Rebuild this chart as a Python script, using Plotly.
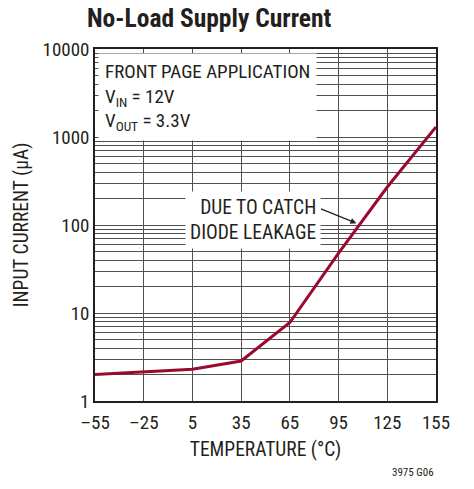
import plotly.graph_objects as go

temperature = [-55, -25, 5, 35, 65, 95, 125, 155]
input_current = [2.0, 2.15, 2.3, 2.85, 7.8, 48, 270, 1300]

x_ticks = [-55, -25, 5, 35, 65, 95, 125, 155]
x_tick_labels = ["–55", "–25", "5", "35", "65", "95", "125", "155"]
y_decades = [1, 10, 100, 1000, 10000]

FONT = "Liberation Sans Narrow, Roboto Condensed, Arial Narrow, sans-serif"
INK = "#231f20"

# gridline values: every 1..9 per decade
y_grid = []
for d in y_decades[:-1]:
    for m in range(1, 10):
        y_grid.append(d * m)
y_grid.append(10000)
y_grid_text = [str(v) if v in y_decades else "" for v in y_grid]

# page has an 8px body margin; figure is sized to compensate
W, H = 466, 481
fig = go.Figure()
fig.add_trace(go.Scatter(
    x=temperature, y=input_current, mode="lines",
    line=dict(color="#9a0a2e", width=3),
    showlegend=False, hoverinfo="skip"))

fig.update_layout(
    width=W, height=H,
    margin=dict(l=77, r=38, t=41, b=88),
    paper_bgcolor="white", plot_bgcolor="white",
    font=dict(family=FONT, size=19, color=INK),
    title=dict(text="<b>No-Load Supply Current</b>", x=(87 - 8) / W, xanchor="left",
               y=1 - (18 - 8) / H, yanchor="middle",
               font=dict(family=FONT, size=25.5, color=INK)),
    xaxis=dict(range=[-55, 155], tickvals=x_ticks, ticktext=x_tick_labels,
               showgrid=True, gridcolor="#505050", gridwidth=1,
               showline=True, linecolor=INK, linewidth=1.5, mirror=True,
               ticks="", zeroline=False, tickfont=dict(size=19),
               ticklabelstandoff=3,
               title=dict(text="TEMPERATURE (°C)", standoff=10,
                          font=dict(family=FONT, size=19.5))),
    yaxis=dict(type="log", range=[0, 4], tickvals=y_grid, ticktext=y_grid_text,
               showgrid=True, gridcolor="#505050", gridwidth=1,
               showline=True, linecolor=INK, linewidth=1.5, mirror=True,
               ticks="", zeroline=False, tickfont=dict(size=19),
               title=dict(text="INPUT CURRENT (µA)", standoff=9,
                          font=dict(family=FONT, size=19.5))),
)

fig.add_annotation(
    x=-53.2, y=3.955, xref="x", yref="y", xanchor="left", yanchor="top",
    text="FRONT PAGE APPLICATION<br>V<sub>IN</sub> = 12V<br>V<sub>OUT</sub> = 3.3V",
    align="left", showarrow=False, bgcolor="white", borderpad=6,
    font=dict(family=FONT, size=19, color=INK))

fig.add_annotation(
    x=106, y=2.02, xref="x", yref="y", ax=-37, ay=-15,
    text="", showarrow=True, arrowhead=2, arrowsize=1, arrowwidth=1.2,
    arrowcolor=INK, standoff=0)

fig.add_annotation(
    x=84.4, y=2.06, xref="x", yref="y", xanchor="right", yanchor="middle",
    text="DUE TO CATCH<br>DIODE LEAKAGE", align="right", showarrow=False,
    bgcolor="white", borderpad=4,
    font=dict(family=FONT, size=19.5, color=INK))

fig.add_annotation(
    x=(412 - 85) / 351, y=(401 - 472) / 352, xref="paper", yref="paper",
    xanchor="center", yanchor="middle", showarrow=False,
    text="3975 G06", font=dict(family=FONT, size=11, color=INK))

fig.write_html("out.html")
